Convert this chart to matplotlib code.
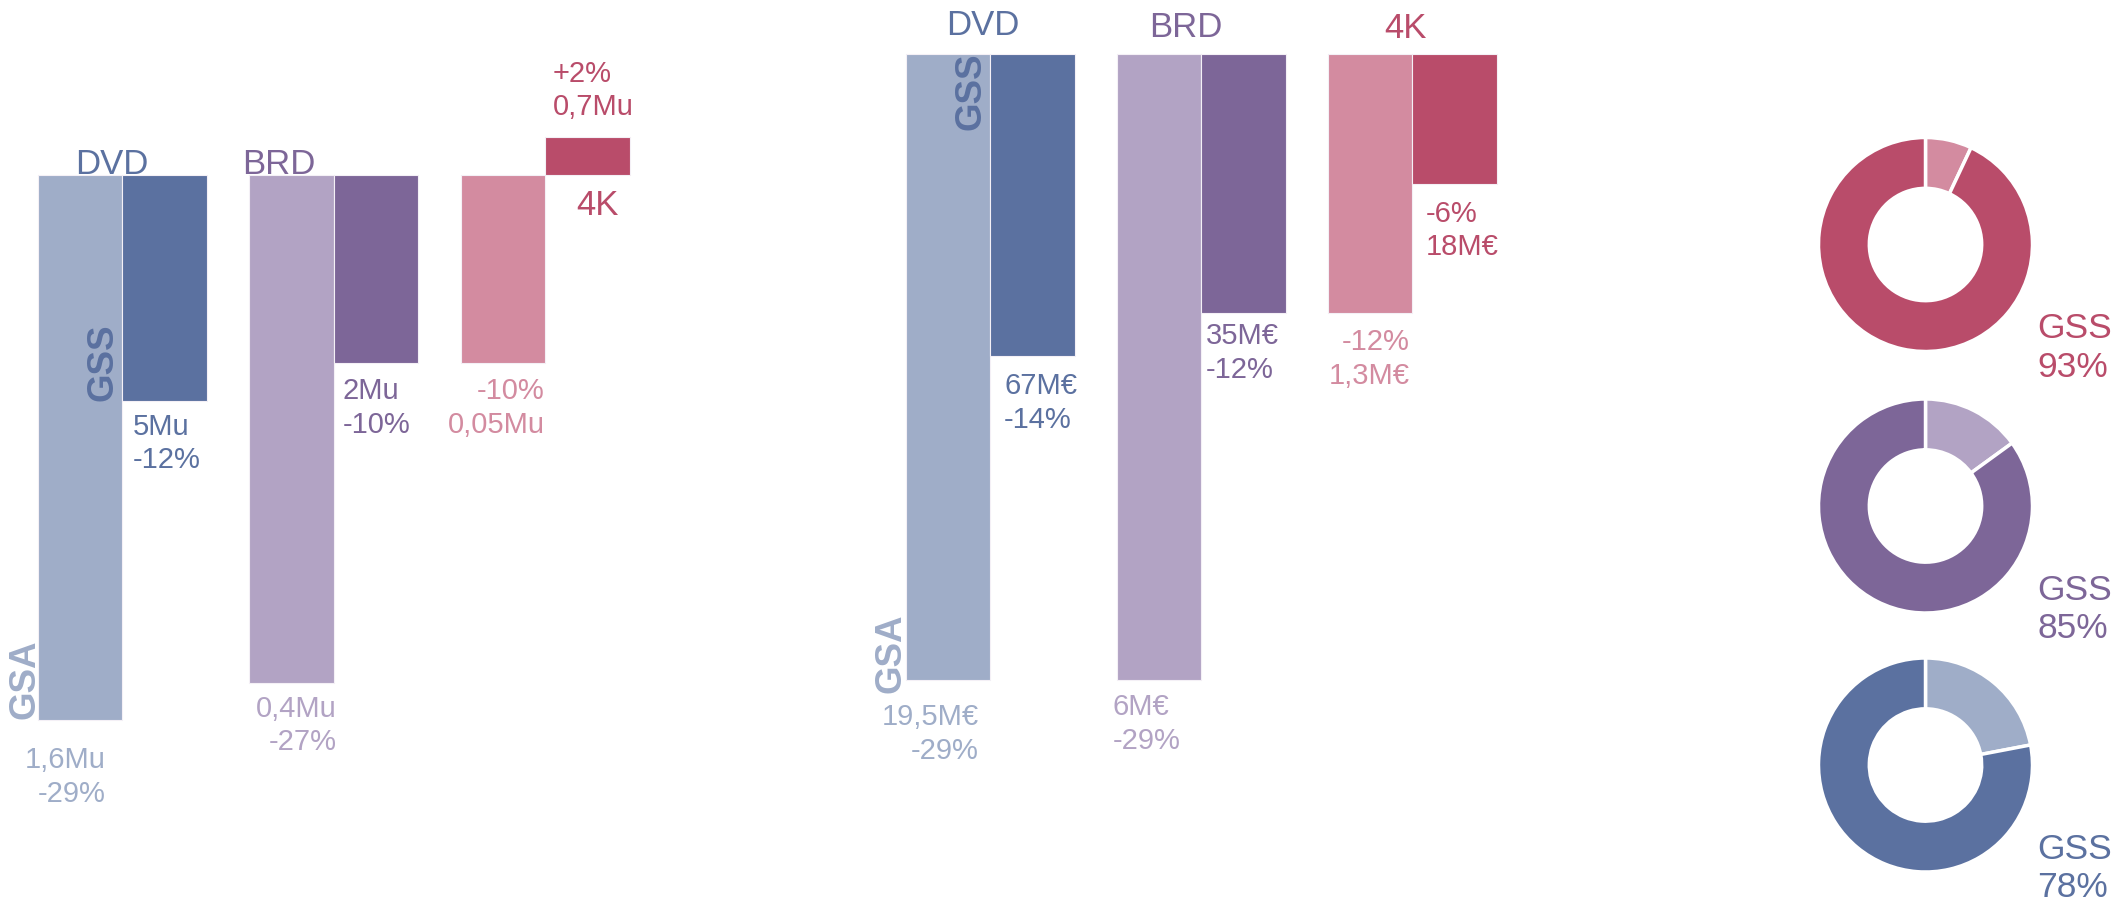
import matplotlib
matplotlib.use("Agg")
import matplotlib.pyplot as plt

# ---------------- data ----------------
categories = ["DVD", "BRD", "4K"]
# volume (units) : % change and amounts
vol_gsa_pct = [-29, -27, -10]
vol_gss_pct = [-12, -10, 2]
vol_gsa_amt = ["1,6Mu", "0,4Mu", "0,05Mu"]
vol_gss_amt = ["5Mu", "2Mu", "0,7Mu"]
# value (M€) : % change and amounts
val_gsa_pct = [-29, -29, -12]
val_gss_pct = [-14, -12, -6]
val_gsa_amt = ["19,5M€", "6M€", "1,3M€"]
val_gss_amt = ["67M€", "35M€", "18M€"]
# GSS share donuts (top to bottom)
share_categories = ["4K", "BRD", "DVD"]
gss_share = [93, 85, 78]

dark = {"DVD": "#5B71A0", "BRD": "#7D6698", "4K": "#B94C6A"}
light = {"DVD": "#9FADC8", "BRD": "#B2A3C4", "4K": "#D38BA0"}

W, H, DPI = 2126, 900, 100
fig = plt.figure(figsize=(W / DPI, H / DPI), dpi=DPI)
fig.patch.set_facecolor("white")

FONT = ["Liberation Sans", "DejaVu Sans"]
VAL_FS = 21
CAT_FS = 25
ROT_FS = 26.5
LS = 1.25


def px_axes(x0, y0, x1, y1):
    return fig.add_axes([x0 / W, 1 - y1 / H, (x1 - x0) / W, (y1 - y0) / H])


def panel(x0, x1, base_px, px_per_pct, first_px, spacing_px, bar_px):
    ax = px_axes(x0, 0, x1, H)
    ax.set_ylim((base_px - H) / px_per_pct, base_px / px_per_pct)
    ax.set_xlim((x0 - first_px) / spacing_px, (x1 - first_px) / spacing_px)
    ax.axis("off")
    bw = bar_px / spacing_px
    return ax, bw


def draw_bars(ax, bw, gsa, gss):
    xs = list(range(len(categories)))
    ax.bar([x - bw for x in xs], gsa, width=bw, align="edge",
           color=[light[c] for c in categories], edgecolor="#f4f0f6", linewidth=0.8, zorder=1)
    ax.bar(xs, gss, width=bw, align="edge",
           color=[dark[c] for c in categories], edgecolor="#f4f0f6", linewidth=0.8, zorder=1)


def label(ax, text, xy, dxy, color, ha="left", va="top", size=VAL_FS, **kw):
    ax.annotate(text, xy=xy, xytext=dxy, textcoords="offset pixels", ha=ha, va=va,
                multialignment=ha if ha != "center" else "center", color=color,
                fontsize=size, family=kw.pop("family", FONT), linespacing=kw.pop("linespacing", LS),
                annotation_clip=False, **kw)


def pct(v):
    return f"{v:+d}%" if v > 0 else f"{v:d}%"


# ---------------- left panel : volumes ----------------
axL, bwL = panel(0, 700, 175, 18.8, 122, 211.5, 84.5)
draw_bars(axL, bwL, vol_gsa_pct, vol_gss_pct)

# category titles
label(axL, categories[0], (0, 0), (-10, 1), dark["DVD"], ha="center", va="baseline", size=CAT_FS)
label(axL, categories[1], (1, 0), (-55, 1), dark["BRD"], ha="center", va="baseline", size=CAT_FS)
label(axL, categories[2], (2, 0), (52, -40), dark["4K"], ha="center", va="baseline", size=CAT_FS)

# GSS value labels
label(axL, f"{vol_gss_amt[0]}\n{pct(vol_gss_pct[0])}", (0, vol_gss_pct[0]), (11, -12), dark["DVD"])
label(axL, f"{vol_gss_amt[1]}\n{pct(vol_gss_pct[1])}", (1, vol_gss_pct[1]), (9, -14), dark["BRD"])
label(axL, f"{pct(vol_gss_pct[2])}\n{vol_gss_amt[2]}", (2, vol_gss_pct[2]), (8, 22), dark["4K"], va="baseline")
# GSA value labels
label(axL, f"{vol_gsa_amt[0]}\n{pct(vol_gsa_pct[0])}", (0, vol_gsa_pct[0]), (-16, -26), light["DVD"], ha="right")
label(axL, f"{vol_gsa_amt[1]}\n{pct(vol_gsa_pct[1])}", (1, vol_gsa_pct[1]), (3, -12), light["BRD"], ha="right")
label(axL, f"{pct(vol_gsa_pct[2])}\n{vol_gsa_amt[2]}", (2, vol_gsa_pct[2]), (0, -14), light["4K"], ha="right")

# rotated series names
label(axL, "GSS", (0, vol_gss_pct[0]), (-2, 0), dark["DVD"], ha="right", va="bottom",
      size=ROT_FS, rotation=90, fontweight="bold", zorder=3)
label(axL, "GSA", (-bwL, vol_gsa_pct[0]), (5, 1), light["DVD"], ha="right", va="bottom",
      size=ROT_FS, rotation=90, fontweight="bold", zorder=0.5)

# ---------------- middle panel : values ----------------
axM, bwM = panel(850, 1550, 54, 21.6, 990, 211, 84.5)
draw_bars(axM, bwM, val_gsa_pct, val_gss_pct)

label(axM, categories[0], (0, 0), (-7, 19), dark["DVD"], ha="center", va="baseline", size=CAT_FS)
label(axM, categories[1], (1, 0), (-15, 17), dark["BRD"], ha="center", va="baseline", size=CAT_FS)
label(axM, categories[2], (2, 0), (-7, 16), dark["4K"], ha="center", va="baseline", size=CAT_FS)

label(axM, f"{val_gss_amt[0]}\n{pct(val_gss_pct[0])}", (0, val_gss_pct[0]), (14, -16), dark["DVD"])
label(axM, f"{val_gss_amt[1]}\n{pct(val_gss_pct[1])}", (1, val_gss_pct[1]), (5, -9), dark["BRD"])
label(axM, f"{pct(val_gss_pct[2])}\n{val_gss_amt[2]}", (2, val_gss_pct[2]), (14, -16), dark["4K"])
label(axM, f"{val_gsa_amt[0]}\n{pct(val_gsa_pct[0])}", (0, val_gsa_pct[0]), (-11, -23), light["DVD"], ha="right")
label(axM, f"{val_gsa_amt[1]}\n{pct(val_gsa_pct[1])}", (1 - bwM, val_gsa_pct[1]), (-4, -13), light["BRD"])
label(axM, f"{pct(val_gsa_pct[2])}\n{val_gsa_amt[2]}", (2, val_gsa_pct[2]), (-2, -15), light["4K"], ha="right")

label(axM, "GSS", (0, 0), (-1, 1), dark["DVD"], ha="right", va="top",
      size=ROT_FS, rotation=90, fontweight="bold", zorder=3)
label(axM, "GSA", (-bwM, val_gsa_pct[0]), (3, -13), light["DVD"], ha="right", va="bottom",
      size=ROT_FS, rotation=90, fontweight="bold", zorder=0.5)

# ---------------- donuts : GSS share ----------------
R = 107
cx = 1925.5
centers = [244.5, 506, 765]
for cat, share, cy in zip(share_categories, gss_share, centers):
    pad = 1.03
    ax = px_axes(cx - R * pad, cy - R * pad, cx + R * pad, cy + R * pad)
    ax.pie([100 - share, share], startangle=90, counterclock=False, radius=1,
           colors=[light[cat], dark[cat]],
           wedgeprops=dict(width=0.475, edgecolor="white", linewidth=2.5))
    ax.set_xlim(-pad, pad)
    ax.set_ylim(-pad, pad)
    ax.set_aspect("equal")
    ax.axis("off")
    ax.annotate(f"GSS\n{share}%", xy=(1, 0), xytext=(5, -68), textcoords="offset pixels",
                ha="left", va="top", color=dark[cat], fontsize=25.5, family=FONT,
                linespacing=1.2, annotation_clip=False)

fig.savefig("out.png", dpi=DPI, facecolor="white")
